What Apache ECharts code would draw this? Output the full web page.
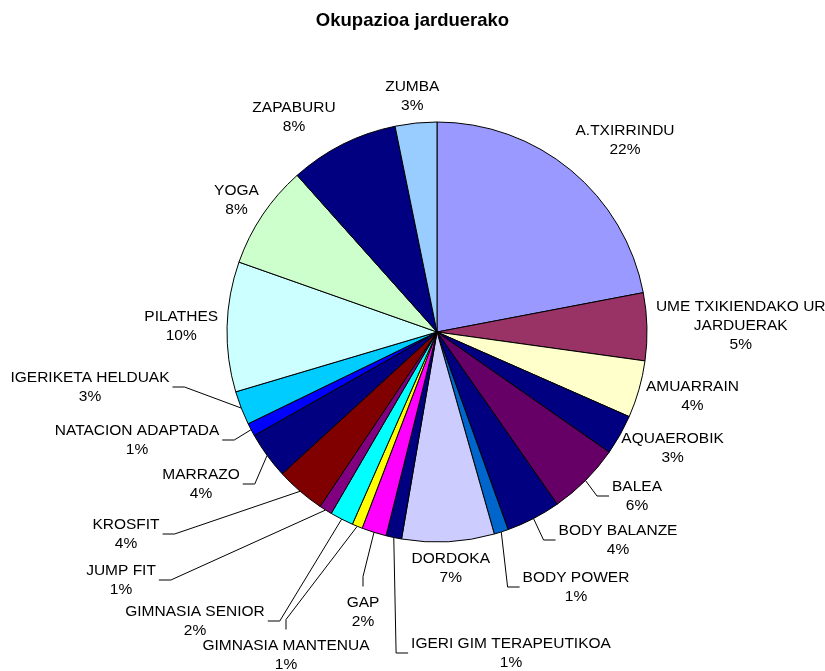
<!DOCTYPE html>
<html lang="eu">
<head>
    <meta charset="UTF-8">
    <title>Okupazioa jarduerako</title>
    <script src="https://cdn.jsdelivr.net/npm/echarts@6/dist/echarts.min.js"></script>
    <style>
        html, body { margin: 0; padding: 0; background: #fff; }
        #chart { width: 825px; height: 671px; }
    </style>
</head>
<body>
<div id="chart"></div>
<script>
    // jarduerak, erlojuaren norantzan goitik hasita
    const categories = [
        'A.TXIRRINDU', 'UME TXIKIENDAKO UR\nJARDUERAK', 'AMUARRAIN', 'AQUAEROBIK', 'BALEA',
        'BODY BALANZE', 'BODY POWER', 'DORDOKA', 'IGERI GIM TERAPEUTIKOA', 'GAP',
        'GIMNASIA MANTENUA', 'GIMNASIA SENIOR', 'JUMP FIT', 'KROSFIT', 'MARRAZO',
        'NATACION ADAPTADA', 'IGERIKETA HELDUAK', 'PILATHES', 'YOGA', 'ZAPABURU', 'ZUMBA'
    ];
    // okupazioa (%), irudiko angeluetatik irakurria
    const occupancy = [
        22.0, 5.2, 4.4, 3.1, 5.6,
        4.2, 1.1, 7.1, 1.2, 1.9,
        0.8, 1.8, 1.0, 3.8, 3.6,
        1.0, 2.6, 10.0, 8.0, 8.4, 3.2
    ];
    const colors = [
        '#9999FF', '#993366', '#FFFFCC', '#000080', '#660066',
        '#000080', '#0066CC', '#CCCCFF', '#000080', '#FF00FF',
        '#FFFF00', '#00FFFF', '#800080', '#800000', '#000080',
        '#0000FF', '#00CCFF', '#CCFFFF', '#CCFFCC', '#000080', '#99CCFF'
    ];

    const CX = 437, CY = 332, R = 210;

    // eskuz mugitutako etiketak (Excel-en bezala): erdigunea eta lerroa lotzen den aldea
    const labelSpots = {
        'A.TXIRRINDU': [625, 140, null],
        'ZAPABURU': [294, 117, null],
        'BALEA': [637, 496, 'l'],
        'BODY BALANZE': [618, 540, 'l'],
        'BODY POWER': [576, 587, 'l'],
        'IGERI GIM TERAPEUTIKOA': [511, 653, 'l'],
        'GAP': [363, 612, 't'],
        'GIMNASIA MANTENUA': [286, 655, 't'],
        'GIMNASIA SENIOR': [195, 621, 'r'],
        'JUMP FIT': [121, 580, 'r'],
        'KROSFIT': [126, 534, 'r'],
        'MARRAZO': [201, 484, 'r'],
        'NATACION ADAPTADA': [137, 440, 'r'],
        'IGERIKETA HELDUAK': [90, 387, 'r']
    };

    // zati bakoitzaren erdiko angelua (goitik, erlojuaren norantzan)
    const total = occupancy.reduce(function (a, b) { return a + b; }, 0);
    const midAngles = [];
    let acc = 0;
    occupancy.forEach(function (v) {
        midAngles.push((acc + v / 2) / total * 2 * Math.PI);
        acc += v;
    });

    const chart = echarts.init(document.getElementById('chart'));

    const pieData = categories.map(function (name, i) {
        const spot = labelSpots[name];
        return {
            name: name,
            value: occupancy[i],
            itemStyle: { color: colors[i] },
            label: i === 1 ? { width: 170, overflow: 'none' } : {},
            labelLine: { show: !!(spot && spot[2]) }
        };
    });

    chart.setOption({
        animation: false,
        title: {
            text: 'Okupazioa jarduerako',
            left: 'center',
            top: 6,
            textStyle: { fontFamily: 'Liberation Sans', fontSize: 18.5, fontWeight: 'bold', color: '#000' }
        },
        series: [{
            type: 'pie',
            center: [CX, CY],
            radius: R,
            startAngle: 90,
            clockwise: true,
            data: pieData,
            itemStyle: { borderColor: '#000', borderWidth: 1 },
            label: {
                show: true,
                position: 'outside',
                color: '#000',
                formatter: function (p) {
                    return '{t|' + p.name + '}\n{t|' + Math.round(p.percent) + '%}';
                },
                rich: {
                    t: {
                        fontFamily: 'Liberation Sans',
                        fontSize: 15.5,
                        lineHeight: 19,
                        color: '#000',
                        align: 'center'
                    }
                }
            },
            labelLine: {
                show: true,
                length: 14,
                length2: 14,
                lineStyle: { color: '#000', width: 1 }
            },
            labelLayout: function (p) {
                const i = p.dataIndex;
                const w = p.labelRect.width, h = p.labelRect.height;
                const spot = labelSpots[categories[i]];
                if (!spot) {
                    // lerrorik gabe: zatiaren ondoan, "best fit" antzera
                    const a = midAngles[i];
                    const s = Math.sin(a), c = Math.cos(a);
                    const d = R + 9;
                    return {
                        x: CX + d * s + (w / 2) * s,
                        y: CY - d * c - (h / 2) * c,
                        align: 'center',
                        verticalAlign: 'middle'
                    };
                }
                const x = spot[0], y = spot[1], side = spot[2];
                const res = { x: x, y: y, align: 'center', verticalAlign: 'middle' };
                if (side) {
                    const a = midAngles[i];
                    const start = [CX + R * Math.sin(a), CY - R * Math.cos(a)];
                    let end, elbow;
                    if (side === 'r') {
                        end = [x + w / 2 + 3, y];
                        elbow = [end[0] + 12, y];
                    } else if (side === 'l') {
                        end = [x - w / 2 - 3, y];
                        elbow = [end[0] - 12, y];
                    } else {
                        end = [x, y - h / 2 - 8];
                        elbow = [x, end[1] - 10];
                    }
                    res.labelLinePoints = [start, elbow, end];
                }
                return res;
            },
            emphasis: { disabled: true }
        }]
    });
</script>
</body>
</html>
